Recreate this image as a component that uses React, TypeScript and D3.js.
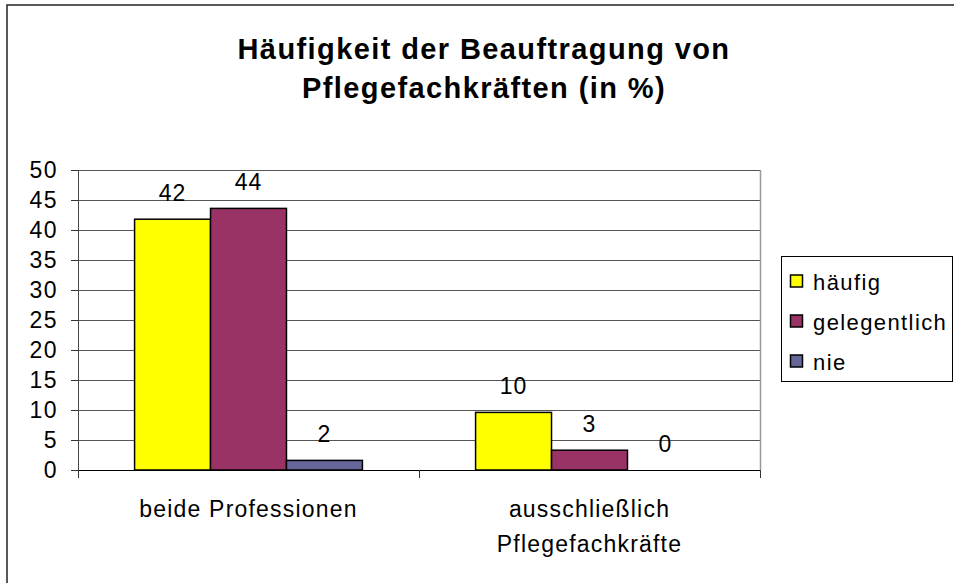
import React, { useEffect } from 'react';
import * as d3 from 'd3';

const categories = ["beide Professionen", "ausschließlich\nPflegefachkräfte"];
const seriesNames = ["häufig", "gelegentlich", "nie"];
const seriesColors = ["#FFFF00", "#993366", "#666699"];
// values per series, one entry per category
const haeufig = [41.8, 9.6];
const gelegentlich = [43.6, 3.3];
const nie = [1.6, 0];
const yTicks = [0, 5, 10, 15, 20, 25, 30, 35, 40, 45, 50];
const titleLines = ["Häufigkeit der Beauftragung von", "Pflegefachkräften (in %)"];

const font = "Arial, 'Liberation Sans', sans-serif";

export default function App() {
    useEffect(() => {
        document.body.style.margin = "0";
    }, []);

    const width = 954;
    const height = 583;
    const plot = { left: 78, right: 760, top: 170, bottom: 470 };

    const x0 = d3.scaleBand<string>().domain(categories).range([plot.left, plot.right]).paddingInner(0).paddingOuter(0);
    const x1 = d3.scaleBand<string>().domain(seriesNames).range([0, x0.bandwidth()]).paddingInner(0).paddingOuter(0.745);
    const y = d3.scaleLinear().domain([0, 50]).range([plot.bottom, plot.top]);

    const allSeries = [haeufig, gelegentlich, nie];

    return (
        <svg width={width} height={height} style={{ display: 'block', background: '#fff' }} fontFamily={font}>
            {/* outer frame */}
            <rect x={7} y={5} width={width + 20} height={height + 20} fill="#fff" stroke="#222" strokeWidth={1.5} />

            {/* title */}
            {titleLines.map((t, i) => (
                <text key={i} x={484} y={59 + i * 39} textAnchor="middle" fontSize={29} fontWeight="bold" letterSpacing={1.4}>{t}</text>
            ))}

            {/* gridlines */}
            {yTicks.map(t => (
                <line key={t} x1={plot.left} x2={plot.right} y1={Math.round(y(t)) + 0.5} y2={Math.round(y(t)) + 0.5} stroke={t === 0 ? "#000" : "#555"} strokeWidth={1} />
            ))}
            {/* y tick marks and labels */}
            {yTicks.map(t => (
                <g key={"t" + t}>
                    <line x1={plot.left - 7} x2={plot.left} y1={Math.round(y(t)) + 0.5} y2={Math.round(y(t)) + 0.5} stroke="#333" />
                    <text x={58} y={y(t) + 8} textAnchor="end" fontSize={23} letterSpacing={1.5}>{t}</text>
                </g>
            ))}
            {/* plot border right */}
            <line x1={plot.right + 0.5} x2={plot.right + 0.5} y1={plot.top} y2={plot.bottom} stroke="#999" strokeWidth={1.5} />
            {/* y axis */}
            <line x1={plot.left + 0.5} x2={plot.left + 0.5} y1={plot.top} y2={plot.bottom} stroke="#444" />

            {/* bars */}
            {categories.map((c, ci) => (
                <g key={c} transform={`translate(${x0(c)},0)`}>
                    {seriesNames.map((s, si) => {
                        const v = allSeries[si][ci];
                        const bx = x1(s)!;
                        return (
                            <g key={s}>
                                {v > 0 && (
                                    <rect x={bx} y={y(v)} width={x1.bandwidth()} height={y(0) - y(v)} fill={seriesColors[si]} stroke="#000" strokeWidth={1.5} />
                                )}
                                <text x={bx + x1.bandwidth() / 2} y={y(v) - 18} textAnchor="middle" fontSize={23} letterSpacing={1}>{Math.round(v)}</text>
                            </g>
                        );
                    })}
                </g>
            ))}

            {/* x axis */}
            <line x1={plot.left} x2={plot.right} y1={plot.bottom + 0.5} y2={plot.bottom + 0.5} stroke="#000" />
            {[plot.left, plot.left + x0.bandwidth(), plot.right].map((tx, i) => (
                <line key={i} x1={tx + 0.5} x2={tx + 0.5} y1={plot.bottom} y2={plot.bottom + 8} stroke="#333" />
            ))}
            {categories.map(c => (
                <text key={c} x={x0(c)! + x0.bandwidth() / 2} textAnchor="middle" fontSize={23} letterSpacing={1.2}>
                    {c.split("\n").map((line, li) => (
                        <tspan key={li} x={x0(c)! + x0.bandwidth() / 2} y={517 + li * 35}>{line}</tspan>
                    ))}
                </text>
            ))}

            {/* legend */}
            <rect x={781.5} y={256.5} width={171} height={125} fill="#fff" stroke="#000" strokeWidth={1} />
            {seriesNames.map((s, i) => (
                <g key={s} transform={`translate(790,${283 + i * 40})`}>
                    <rect x={0.5} y={-8} width={12} height={12} fill={seriesColors[i]} stroke="#000" strokeWidth={1.5} />
                    <text x={23} y={7} fontSize={22} letterSpacing={1.4}>{s}</text>
                </g>
            ))}
        </svg>
    );
}
